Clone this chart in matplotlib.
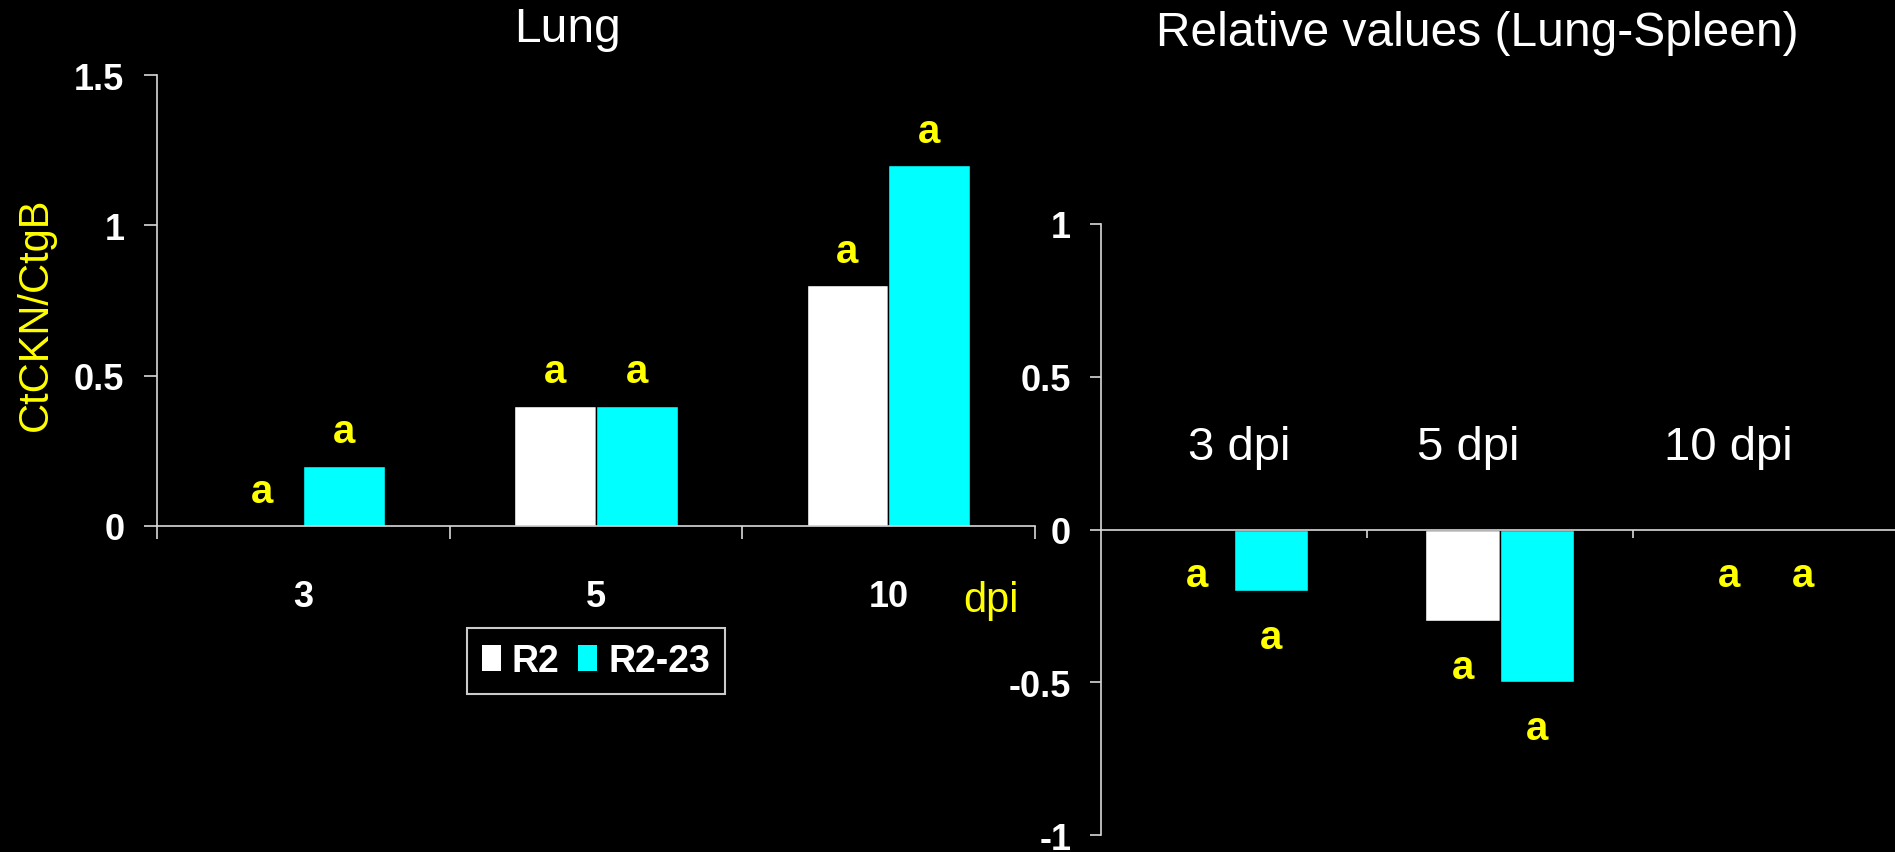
import matplotlib
matplotlib.use("Agg")
import matplotlib.pyplot as plt
from matplotlib.patches import Patch
import numpy as np

# ---- data ----
categories = ["3", "5", "10"]
series = ["R2", "R2-23"]
lung_r2 = [0.0, 0.4, 0.8]
lung_r223 = [0.2, 0.4, 1.2]
rel_r2 = [0.0, -0.3, 0.0]
rel_r223 = [-0.2, -0.5, 0.0]
rel_labels = ["3 dpi", "5 dpi", "10 dpi"]
sig_letters = ["a", "a", "a"]
lung_yticks = [0, 0.5, 1, 1.5]
lung_yticklabels = ["0", "0.5", "1", "1.5"]
rel_yticks = [-1, -0.5, 0, 0.5, 1]
rel_yticklabels = ["-1", "-0.5", "0", "0.5", "1"]

colors = ["#FFFFFF", "#00FFFF"]
YEL = "#FFFF00"
AXC = "#D9D9D9"
FONT = ["Liberation Sans", "DejaVu Sans"]
plt.rcParams["font.family"] = FONT

fig = plt.figure(figsize=(18.95, 8.53), dpi=100, facecolor="black")

x = np.arange(len(categories))
w = 0.28
LETTER_SIZE = 29

# ---- left panel ----
ax1 = fig.add_axes([0.0829, 0.3822, 0.4631, 0.5287], facecolor="black")
ax1.bar(x - w / 2, lung_r2, w, color=colors[0], edgecolor="black", linewidth=1)
ax1.bar(x + w / 2, lung_r223, w, color=colors[1], edgecolor="black", linewidth=1)
for i in range(len(categories)):
    ax1.text(x[i] - w / 2, lung_r2[i] + 0.115, sig_letters[i], color=YEL,
             fontsize=LETTER_SIZE, fontweight="bold", ha="center", va="center")
    ax1.text(x[i] + w / 2, lung_r223[i] + 0.115, sig_letters[i], color=YEL,
             fontsize=LETTER_SIZE, fontweight="bold", ha="center", va="center")
ax1.set_xlim(-0.5, 2.5)
ax1.set_ylim(0, 1.5)
ax1.set_yticks(lung_yticks)
ax1.set_yticklabels(lung_yticklabels)
ax1.set_xticks(x)
ax1.set_xticklabels(categories)
ax1.set_xticks(np.arange(-0.5, 3.0, 1.0), minor=True)
ax1.tick_params(axis="x", which="major", length=0, pad=38, labelsize=26,
                labelcolor="white")
ax1.tick_params(axis="x", which="minor", length=9, width=1.2, color=AXC,
                direction="out")
ax1.tick_params(axis="y", which="major", length=9.5, width=1.2, color=AXC,
                pad=14, labelsize=26, labelcolor="white")
for lab in ax1.get_xticklabels() + ax1.get_yticklabels():
    lab.set_fontweight("bold")
for s in ["top", "right"]:
    ax1.spines[s].set_visible(False)
for s in ["left", "bottom"]:
    ax1.spines[s].set_color(AXC)
    ax1.spines[s].set_linewidth(1.2)

handles = [Patch(facecolor=colors[0], edgecolor="none", label=series[0]),
           Patch(facecolor=colors[1], edgecolor="none", label=series[1])]
leg = fig.legend(handles=handles, loc="center", bbox_to_anchor=(596 / 1895, 1 - 662 / 853),
                 ncol=2, frameon=True, fancybox=False, facecolor="black",
                 edgecolor="white", handlelength=0.5, handleheight=0.7,
                 handletextpad=0.3, columnspacing=0.5, borderpad=0.4,
                 prop={"weight": "bold", "size": 27, "family": FONT})
for t in leg.get_texts():
    t.set_color("white")
leg.get_frame().set_linewidth(1.5)

# ---- right panel ----
ax2 = fig.add_axes([0.581, 0.0195, 0.421, 0.717], facecolor="black")
ax2.bar(x - w / 2, rel_r2, w, color=colors[0], edgecolor="black", linewidth=1)
ax2.bar(x + w / 2, rel_r223, w, color=colors[1], edgecolor="black", linewidth=1)
for i in range(len(categories)):
    ax2.text(x[i] - w / 2, rel_r2[i] - 0.15, sig_letters[i], color=YEL,
             fontsize=LETTER_SIZE, fontweight="bold", ha="center", va="center")
    ax2.text(x[i] + w / 2, rel_r223[i] - 0.15, sig_letters[i], color=YEL,
             fontsize=LETTER_SIZE, fontweight="bold", ha="center", va="center")
label_pos = [0.02, 0.88, 1.86]
for i, lbl in enumerate(rel_labels):
    ax2.text(label_pos[i], 0.27, lbl, color="white", fontsize=34,
             ha="center", va="center")
ax2.set_xlim(-0.5, 2.5)
ax2.set_ylim(-1, 1)
ax2.set_yticks(rel_yticks)
ax2.set_yticklabels(rel_yticklabels)
ax2.set_xticks([])
ax2.set_xticks([0.5, 1.5], minor=True)
ax2.tick_params(axis="x", which="minor", length=6, width=1.2, color=AXC,
                direction="out")
ax2.tick_params(axis="y", which="major", length=8, width=1.2, color=AXC,
                pad=13.5, labelsize=26, labelcolor="white")
for lab in ax2.get_yticklabels():
    lab.set_fontweight("bold")
ax2.spines["bottom"].set_position(("data", 0))
for s in ["top", "right"]:
    ax2.spines[s].set_visible(False)
for s in ["left", "bottom"]:
    ax2.spines[s].set_color(AXC)
    ax2.spines[s].set_linewidth(1.2)

# ---- figure texts ----
fig.text(568 / 1895, 1 - 30 / 853, "Lung", color="white", fontsize=34.5,
         ha="center", va="center")
fig.text(1477 / 1895, 1 - 34 / 853, "Relative values (Lung-Spleen)", color="white",
         fontsize=34.5, ha="center", va="center")
fig.text(36 / 1895, 1 - 314 / 853, "CtCKN/CtgB", color=YEL, fontsize=30,
         rotation=90, ha="center", va="center")
fig.text(991 / 1895, 1 - 601 / 853, "dpi", color=YEL, fontsize=30,
         ha="center", va="center")

fig.savefig("out.png", dpi=100, facecolor="black")
